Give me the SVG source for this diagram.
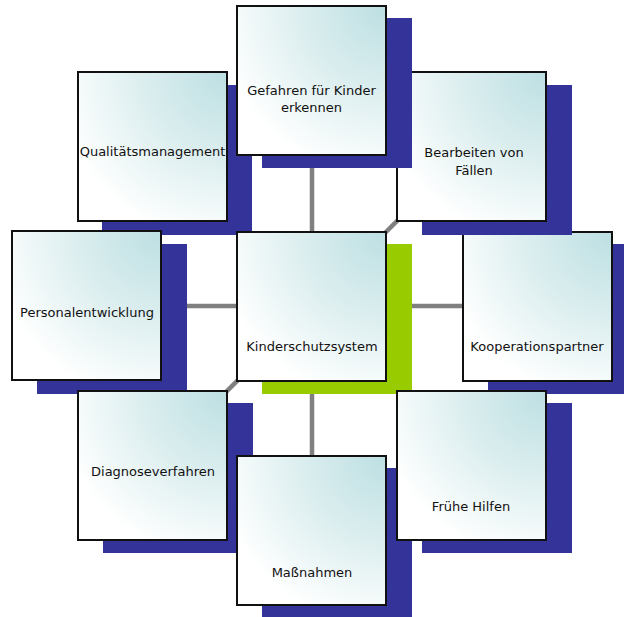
<svg xmlns="http://www.w3.org/2000/svg" width="624" height="617" viewBox="0 0 624 617">
  <defs>
    <radialGradient id="boxfill" cx="1" cy="0" r="1.15" fx="1" fy="0">
      <stop offset="0" stop-color="#bcdfe2"/>
      <stop offset="0.5" stop-color="#dceeef"/>
      <stop offset="1" stop-color="#ffffff"/>
    </radialGradient>
  </defs>
  <style>
    .conn { stroke: #808080; stroke-width: 4.5; fill: none; }
    .shadow { fill: #333399; }
    .shadow-c { fill: #99cc00; }
    .box { fill: url(#boxfill); stroke: #111111; stroke-width: 2; }
    .lbl { font-family: "DejaVu Sans", Verdana, sans-serif; font-size: 13px; fill: #111111; text-anchor: middle; }
  </style>
  <rect width="624" height="617" fill="#ffffff"/>

  <g id="connectors">
    <line class="conn" x1="312" y1="306" x2="312" y2="81"/>
    <line class="conn" x1="312" y1="306" x2="472" y2="146"/>
    <line class="conn" x1="312" y1="306" x2="537" y2="306"/>
    <line class="conn" x1="312" y1="306" x2="472" y2="466"/>
    <line class="conn" x1="312" y1="306" x2="312" y2="531"/>
    <line class="conn" x1="312" y1="306" x2="152" y2="466"/>
    <line class="conn" x1="312" y1="306" x2="87" y2="306"/>
    <line class="conn" x1="312" y1="306" x2="152" y2="146"/>
  </g>

  <g id="node-kooperation">
    <rect class="shadow" x="488" y="244" width="150" height="150"/>
    <rect class="box" x="463" y="232" width="149" height="149"/>
    <text class="lbl" x="537" y="351">Kooperationspartner</text>
  </g>

  <g id="node-bearbeiten">
    <rect class="shadow" x="422" y="85" width="150" height="150"/>
    <rect class="box" x="397" y="72" width="149" height="149"/>
    <text class="lbl" x="474" y="157">Bearbeiten von</text>
    <text class="lbl" x="474" y="175">Fällen</text>
  </g>

  <g id="node-qualitaet">
    <rect class="shadow" x="102" y="85" width="150" height="150"/>
    <rect class="box" x="78" y="72" width="149" height="149"/>
    <text class="lbl" x="152.5" y="156">Qualitätsmanagement</text>
  </g>

  <g id="node-gefahren">
    <rect class="shadow" x="262" y="18" width="150" height="150"/>
    <rect class="box" x="237" y="6" width="149" height="149"/>
    <text class="lbl" x="311.5" y="95">Gefahren für Kinder</text>
    <text class="lbl" x="311.5" y="112">erkennen</text>
  </g>

  <g id="node-personal">
    <rect class="shadow" x="37" y="244" width="150" height="150"/>
    <rect class="box" x="12" y="231" width="149" height="149"/>
    <text class="lbl" x="87" y="317">Personalentwicklung</text>
  </g>

  <g id="node-center">
    <rect class="shadow-c" x="262" y="244" width="150" height="150"/>
    <rect class="box" x="237" y="232" width="149" height="149"/>
    <text class="lbl" x="312" y="351">Kinderschutzsystem</text>
  </g>

  <g id="node-diagnose">
    <rect class="shadow" x="103" y="403" width="150" height="150"/>
    <rect class="box" x="78" y="391" width="149" height="149"/>
    <text class="lbl" x="153" y="476">Diagnoseverfahren</text>
  </g>

  <g id="node-massnahmen">
    <rect class="shadow" x="262" y="468" width="150" height="150"/>
    <rect class="box" x="237" y="456" width="149" height="149"/>
    <text class="lbl" x="312" y="577">Maßnahmen</text>
  </g>

  <g id="node-fruehe">
    <rect class="shadow" x="422" y="403" width="150" height="150"/>
    <rect class="box" x="397" y="391" width="149" height="149"/>
    <text class="lbl" x="471" y="511">Frühe Hilfen</text>
  </g>
</svg>
